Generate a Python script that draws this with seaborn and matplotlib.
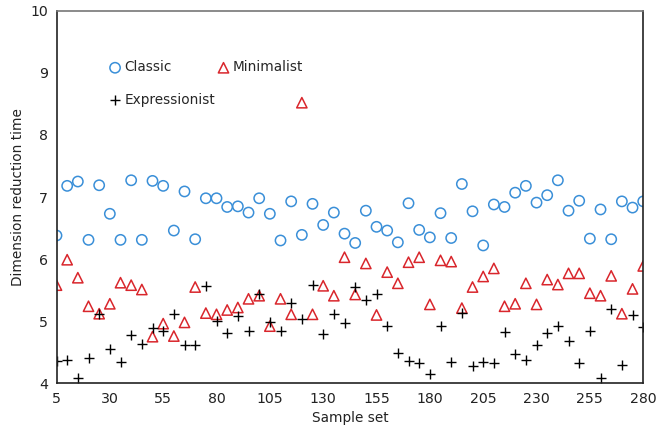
import numpy as np
import pandas as pd
import matplotlib
matplotlib.use("Agg")
import matplotlib.pyplot as plt
import seaborn as sns

# Sample set positions
sample_set = list(range(5, 281, 5))

classic = [6.38, 7.18, 7.25, 6.31, 7.19, 6.73, 6.31, 7.27, 6.31, 7.26,
           7.18, 6.46, 7.09, 6.32, 6.98, 6.98, 6.84, 6.85, 6.75, 6.98,
           6.73, 6.30, 6.93, 6.39, 6.89, 6.55, 6.75, 6.41, 6.26, 6.78,
           6.52, 6.46, 6.27, 6.90, 6.47, 6.35, 6.74, 6.34, 7.21, 6.77,
           6.22, 6.88, 6.84, 7.07, 7.18, 6.91, 7.03, 7.27, 6.78, 6.94,
           6.33, 6.80, 6.32, 6.93, 6.83, 6.93]

minimalist = [5.58, 5.99, 5.70, 5.24, 5.12, 5.28, 5.62, 5.58, 5.51, 4.75,
              4.96, 4.76, 4.98, 5.55, 5.13, 5.11, 5.18, 5.22, 5.36, 5.41,
              4.92, 5.36, 5.11, 8.52, 5.11, 5.57, 5.41, 6.03, 5.43, 5.93,
              5.10, 5.79, 5.61, 5.95, 6.03, 5.27, 5.98, 5.96, 5.21, 5.55,
              5.72, 5.85, 5.24, 5.28, 5.61, 5.27, 5.67, 5.59, 5.77, 5.77,
              5.45, 5.41, 5.73, 5.12, 5.52, 5.89]

expressionist = [4.36, 4.37, 4.09, 4.41, 5.11, 4.55, 4.34, 4.78, 4.63, 4.89,
                 4.84, 5.12, 4.61, 4.61, 5.56, 5.00, 4.81, 5.09, 4.84, 5.43,
                 4.98, 4.84, 5.30, 5.03, 5.58, 4.79, 5.11, 4.97, 5.55, 5.34,
                 5.43, 4.92, 4.49, 4.36, 4.32, 4.15, 4.92, 4.35, 5.13, 4.28,
                 4.34, 4.32, 4.83, 4.47, 4.38, 4.62, 4.81, 4.92, 4.68, 4.33,
                 4.84, 4.09, 5.19, 4.29, 5.10, 4.90]

x_ticks = list(range(5, 281, 25))

df = pd.DataFrame({"Sample set": sample_set, "Classic": classic,
                   "Minimalist": minimalist, "Expressionist": expressionist})
long_df = df.melt(id_vars="Sample set", var_name="Style",
                  value_name="Dimension reduction time")

sns.set_style("white")
plt.rcParams["font.family"] = ["DejaVu Sans"]

fig = plt.figure(figsize=(6.57, 4.34), dpi=100)
ax = fig.add_axes([0.086, 0.117, 0.893, 0.858])

styles = {
    "Classic": dict(marker="o", facecolors="none", edgecolors="#3a8fd8", s=55, linewidths=1.1),
    "Minimalist": dict(marker="^", facecolors="none", edgecolors="#d9262c", s=55, linewidths=1.1),
    "Expressionist": dict(marker="+", color="black", s=55, linewidths=1.0),
}
for name, kw in styles.items():
    sub = long_df[long_df["Style"] == name]
    sns.scatterplot(data=sub, x="Sample set", y="Dimension reduction time",
                    ax=ax, label=name, **kw)

fs = 9.8
ax.set_xlim(5, 280)
ax.set_ylim(4, 10)
ax.set_xticks(x_ticks)
ax.set_yticks(range(4, 11))
ax.tick_params(direction="in", length=4, width=1, colors="#222222",
               labelsize=fs + 0.4, pad=6)
ax.set_xlabel("Sample set", fontsize=fs, color="#222222")
ax.set_ylabel("Dimension reduction time", fontsize=fs, color="#222222")
for side in ["left", "bottom", "right"]:
    ax.spines[side].set_color("#222222")
    ax.spines[side].set_linewidth(1.2)
ax.spines["top"].set_color("#777777")
ax.spines["top"].set_linewidth(1.2)

# legend: Classic / Minimalist on first row, Expressionist below
handles, labels = ax.get_legend_handles_labels()
order = [labels.index(n) for n in ["Classic", "Expressionist", "Minimalist"]]
ax.legend([handles[i] for i in order], [labels[i] for i in order],
          loc="upper left", bbox_to_anchor=(0.065, 0.9), ncol=2, frameon=False,
          fontsize=fs, handletextpad=0.1, handlelength=1.2, columnspacing=0.0,
          labelspacing=1.35, markerscale=1.0)

fig.savefig("out.png", dpi=100)
